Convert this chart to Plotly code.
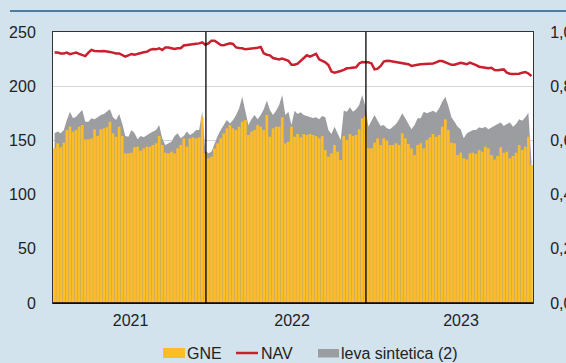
import plotly.graph_objects as go

# Weekly series (index = week number from the start of 2021)
gne = [
    142.7, 147.3, 143.6, 147.9, 159.6, 162.7, 158.1, 159.6, 162.7, 164.2,
    151.0, 151.0, 151.9, 160.2, 154.1, 160.2, 161.1, 162.1, 167.3, 156.5,
    153.4, 162.7, 154.1, 138.1, 138.1, 138.7, 143.6, 144.2, 140.5, 142.7,
    144.2, 144.2, 145.8, 147.3, 154.1, 145.8, 138.7, 138.1, 139.6, 138.1,
    142.7, 145.8, 151.9, 144.2, 151.9, 152.8, 151.9, 152.8, 171.3, 138.1,
    133.5, 135.0, 142.7, 147.3, 151.9, 156.5, 161.1, 164.2, 161.1, 159.6,
    162.7, 167.3, 168.8, 155.0, 158.1, 159.6, 164.2, 162.7, 159.6, 173.4,
    153.4, 161.1, 162.7, 162.7, 171.3, 147.3, 148.8, 162.7, 153.4, 155.9,
    152.8, 155.9, 155.0, 155.9, 155.0, 154.1, 151.9, 154.1, 141.1, 135.0,
    138.1, 145.8, 139.6, 131.9, 154.1, 150.4, 155.9, 154.1, 155.0, 160.2,
    170.4, 172.5, 142.7, 142.7, 147.9, 151.9, 145.8, 151.9, 149.8, 145.8,
    145.8, 147.3, 145.8, 156.5, 151.9, 146.7, 142.7, 136.5, 145.8, 147.3,
    142.7, 150.4, 152.8, 155.9, 153.4, 155.0, 162.7, 169.4, 159.6, 147.9,
    147.3, 136.5, 138.7, 133.5, 132.5, 138.1, 138.7, 137.5, 141.1, 139.6,
    144.2, 142.7, 136.5, 132.5, 135.6, 143.6, 138.7, 139.6, 133.5, 135.6,
    138.7, 145.8, 141.1, 144.2, 153.4, 127.3,
]

leva = [
    156.5, 158.1, 156.5, 159.6, 168.8, 176.5, 170.4, 171.8, 175.0, 178.0,
    167.3, 167.3, 170.4, 169.4, 171.3, 173.4, 174.4, 176.5, 178.7, 171.3,
    168.8, 174.4, 165.7, 154.1, 153.4, 159.6, 156.5, 151.0, 154.1, 152.8,
    155.0, 156.5, 158.1, 159.6, 164.2, 151.9, 145.8, 147.3, 148.8, 154.1,
    156.5, 151.9, 154.1, 158.1, 155.0, 156.5, 159.6, 159.6, 176.5, 140.5,
    138.1, 139.6, 147.3, 154.1, 159.6, 164.2, 168.8, 165.7, 168.8, 173.4,
    179.6, 190.3, 178.0, 164.2, 169.4, 173.4, 169.4, 173.4, 178.7, 186.7,
    178.0, 173.4, 177.4, 182.7, 191.9, 173.4, 176.5, 164.2, 177.4, 174.4,
    175.9, 173.4, 172.5, 171.3, 170.7, 171.3, 169.4, 172.5, 171.3, 159.6,
    155.9, 162.7, 156.5, 150.4, 177.4, 176.5, 180.5, 176.5, 178.7, 182.7,
    191.9, 181.7, 162.7, 168.8, 173.4, 168.2, 163.3, 164.2, 161.1, 160.2,
    162.7, 165.1, 169.4, 175.0, 170.4, 165.7, 160.2, 164.2, 170.4, 170.4,
    176.5, 175.0, 176.5, 177.4, 175.6, 179.6, 185.7, 190.3, 181.7, 171.3,
    167.3, 162.7, 160.2, 151.9, 156.5, 158.1, 159.6, 159.6, 162.1, 161.1,
    162.7, 160.2, 162.1, 163.3, 165.1, 166.4, 163.3, 165.1, 166.4, 162.7,
    165.1, 169.4, 168.2, 171.3, 175.6, 130.4,
]

nav = [
    0.924, 0.924, 0.921, 0.921, 0.924, 0.918, 0.921, 0.924, 0.919, 0.916,
    0.911, 0.924, 0.934, 0.930, 0.929, 0.929, 0.930, 0.929, 0.926, 0.924,
    0.921, 0.921, 0.916, 0.909, 0.914, 0.919, 0.916, 0.919, 0.924, 0.925,
    0.927, 0.934, 0.937, 0.936, 0.940, 0.934, 0.943, 0.943, 0.940, 0.937,
    0.940, 0.940, 0.950, 0.952, 0.955, 0.956, 0.957, 0.958, 0.962, 0.953,
    0.958, 0.968, 0.968, 0.960, 0.952, 0.951, 0.956, 0.958, 0.956, 0.943,
    0.941, 0.940, 0.936, 0.937, 0.939, 0.940, 0.942, 0.945, 0.921, 0.916,
    0.914, 0.904, 0.902, 0.899, 0.902, 0.899, 0.894, 0.879, 0.879, 0.883,
    0.893, 0.903, 0.914, 0.909, 0.914, 0.919, 0.899, 0.894, 0.888, 0.878,
    0.854, 0.850, 0.852, 0.856, 0.860, 0.866, 0.867, 0.868, 0.870, 0.884,
    0.889, 0.888, 0.888, 0.884, 0.862, 0.865, 0.875, 0.891, 0.894, 0.893,
    0.891, 0.889, 0.888, 0.887, 0.884, 0.881, 0.875, 0.878, 0.879, 0.881,
    0.882, 0.882, 0.883, 0.884, 0.888, 0.893, 0.893, 0.888, 0.884, 0.879,
    0.879, 0.882, 0.886, 0.884, 0.881, 0.887, 0.883, 0.878, 0.872, 0.870,
    0.867, 0.866, 0.868, 0.860, 0.859, 0.860, 0.862, 0.850, 0.846, 0.845,
    0.845, 0.846, 0.850, 0.852, 0.847, 0.838,
]

weeks = list(range(len(gne)))

years = ["2021", "2022", "2023"]
year_label_at = [24.7, 77.2, 132.1]
year_breaks = [49.2, 101.2]

left_ticks = [0, 50, 100, 150, 200, 250]
right_ticks = [0.0, 0.2, 0.4, 0.6, 0.8, 1.0]
right_labels = ["0,0", "0,2", "0,4", "0,6", "0,8", "1,0"]

BG = "#d3e3ee"
YELLOW = "#fdbd27"
GREY = "#9b9da0"
RED = "#c8202f"
INK = "#222222"
FONT = "Liberation Sans, Arial, sans-serif"

W, H = 566, 363
ML, MR, MT, MB = 53, 33, 32, 60
PW, PH = W - ML - MR, H - MT - MB


def px(xp):
    return (xp - ML) / PW


def py(yp):
    return (H - MB - yp) / PH


fig = go.Figure()

# grey synthetic-leverage area on the base axis, so it stays behind the bars
fig.add_trace(go.Scatter(
    x=weeks, y=leva, name="leva sintetica (2)", mode="lines",
    line=dict(width=0, color=GREY), fill="tozeroy", fillcolor=GREY,
    showlegend=False, hoverinfo="skip",
))
# GNE bars on an overlaid copy of the left scale
fig.add_trace(go.Bar(
    x=weeks, y=gne, name="GNE", yaxis="y2",
    marker=dict(color=YELLOW, line=dict(width=0)), showlegend=False,
))
# NAV on the right-hand scale
fig.add_trace(go.Scatter(
    x=weeks, y=nav, name="NAV", yaxis="y3", mode="lines",
    line=dict(color=RED, width=2.5), showlegend=False,
))

shapes = []
for xb in year_breaks:
    shapes.append(dict(type="line", xref="x", yref="paper", x0=xb, x1=xb,
                       y0=0, y1=1, line=dict(color="black", width=1.3),
                       layer="above"))
# rule across the top of the panel
shapes.append(dict(type="line", xref="paper", yref="paper",
                   x0=px(10), x1=px(W + 5), y0=py(11), y1=py(11),
                   line=dict(color="#1d5b85", width=1.6)))
# black base line along zero
shapes.append(dict(type="line", xref="paper", yref="paper", x0=0, x1=1,
                   y0=0, y1=0, line=dict(color="black", width=1.5),
                   layer="above"))

# legend keys
shapes.append(dict(type="rect", xref="paper", yref="paper",
                   x0=px(163), x1=px(185), y0=py(358), y1=py(348),
                   fillcolor=YELLOW, line=dict(width=0)))
shapes.append(dict(type="line", xref="paper", yref="paper",
                   x0=px(236), x1=px(258), y0=py(353), y1=py(353),
                   line=dict(color=RED, width=2.5)))
shapes.append(dict(type="rect", xref="paper", yref="paper",
                   x0=px(318), x1=px(339), y0=py(357.5), y1=py(349),
                   fillcolor=GREY, line=dict(width=0)))

annotations = []
for label, xl in [("GNE", 185), ("NAV", 258.5), ("leva sintetica (2)", 338.5)]:
    annotations.append(dict(text=label, xref="paper", yref="paper",
                            x=px(xl), y=py(353), xanchor="left",
                            yanchor="middle", showarrow=False,
                            font=dict(size=16, color=INK, family=FONT)))

fig.update_layout(
    width=W, height=H, autosize=False,
    margin=dict(l=ML, r=MR, t=MT, b=MB, pad=0),
    paper_bgcolor=BG, plot_bgcolor="white",
    font=dict(family=FONT, size=16, color=INK),
    bargap=0.12,
    showlegend=False,
    shapes=shapes,
    annotations=annotations,
    xaxis=dict(
        range=[-0.5, len(gne) - 0.5], tickmode="array",
        tickvals=year_label_at, ticktext=years, ticks="",
        showgrid=False, zeroline=False, automargin=False,
        showline=True, mirror=True, linecolor="#333333", linewidth=1,
        tickfont=dict(size=16, color=INK), ticklabelstandoff=3,
    ),
    yaxis=dict(
        range=[0, 250], tickmode="array", tickvals=left_ticks, ticks="",
        showgrid=True, gridcolor="#d6d6d6", gridwidth=1, zeroline=False,
        showline=True, linecolor="#333333", linewidth=1, automargin=False,
        tickfont=dict(size=16, color=INK), ticklabelstandoff=13,
    ),
    yaxis2=dict(
        overlaying="y", range=[0, 250], visible=False, automargin=False,
    ),
    yaxis3=dict(
        overlaying="y", side="right", range=[0, 1.0],
        tickmode="array", tickvals=right_ticks, ticktext=right_labels,
        ticks="", showgrid=False, zeroline=False, automargin=False,
        showline=True, linecolor="#333333", linewidth=1,
        tickfont=dict(size=16, color=INK), ticklabelstandoff=13,
    ),
)

fig.write_html("out.html")
